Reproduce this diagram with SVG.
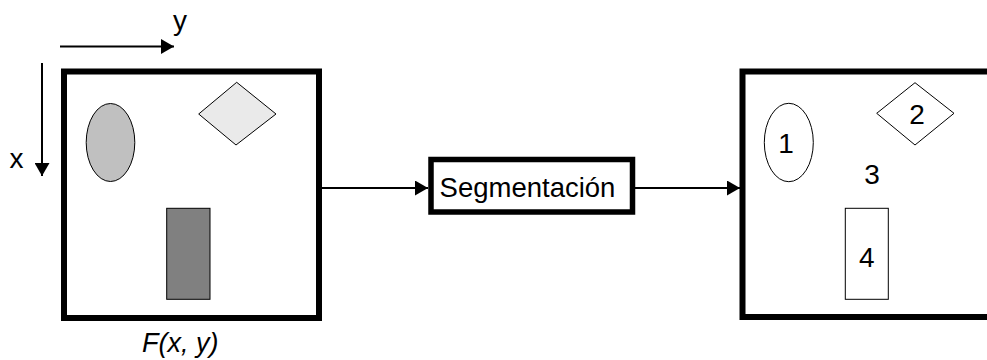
<svg xmlns="http://www.w3.org/2000/svg" width="987" height="360" viewBox="0 0 987 360">
<style>
text{font-family:"Liberation Sans",Arial,sans-serif;font-size:28px;fill:#000}
.frame{fill:#fff;stroke:#000;stroke-width:6}
.shape{stroke:#000;stroke-width:1}
.conn{stroke:#000;stroke-width:2;fill:none;marker-end:url(#ah)}
</style>
<defs>
<marker id="ah" viewBox="0 0 13 15" refX="13" refY="7.5" markerWidth="13" markerHeight="15" markerUnits="userSpaceOnUse" orient="auto">
<path d="M0,0 L13,7.5 L0,15 z" fill="#000"/>
</marker>
</defs>
<rect width="987" height="360" fill="#fff"/>
<g id="axes">
<line class="conn" x1="60" y1="46.5" x2="174" y2="46.5"/>
<line class="conn" x1="42" y1="63" x2="42" y2="176"/>
<text x="173" y="30">y</text>
<text x="9.5" y="168">x</text>
</g>
<g id="input-image">
<rect class="frame" x="64" y="71.5" width="255" height="246.5"/>
<ellipse class="shape" cx="110.5" cy="142.5" rx="24.3" ry="39" fill="#c0c0c0"/>
<polygon class="shape" points="198.7,114 236.7,82.3 276,114 236,145" fill="#eaeaea"/>
<rect class="shape" x="166.7" y="208.3" width="43.3" height="91" fill="#808080"/>
<text x="142" y="351.5" font-style="italic" style="font-size:27px">F(x, y)</text>
</g>
<g id="segmentacion">
<rect class="frame" x="431" y="159.5" width="201.5" height="52.5" style="stroke-width:5.5"/>
<text x="527.5" y="197" text-anchor="middle" style="font-size:27.5px">Segmentación</text>
</g>
<g id="output-image">
<rect class="frame" x="742.5" y="71.5" width="255" height="245.5"/>
<ellipse class="shape" cx="788.8" cy="142.5" rx="24.5" ry="39.2" fill="#fff"/>
<text x="786" y="153" text-anchor="middle">1</text>
<polygon class="shape" points="876.7,113.3 915,82.7 954,113.3 915,145" fill="#fff"/>
<text x="917" y="123.5" text-anchor="middle">2</text>
<text x="872" y="183.5" text-anchor="middle">3</text>
<rect class="shape" x="845.3" y="208.3" width="43" height="91" fill="#fff"/>
<text x="866.7" y="266.5" text-anchor="middle">4</text>
</g>
<g id="connectors">
<line class="conn" x1="322" y1="188" x2="428" y2="188"/>
<line class="conn" x1="635" y1="188" x2="740" y2="188"/>
</g>
</svg>
